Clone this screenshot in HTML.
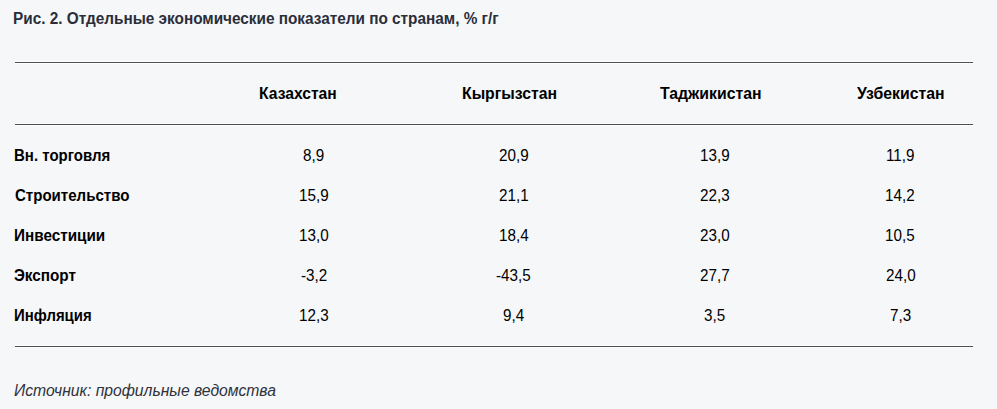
<!DOCTYPE html>
<html><head><meta charset="utf-8"><style>
html,body{margin:0;padding:0;}
body{width:997px;height:409px;background:#f6f7f9;position:relative;overflow:hidden;font-family:"Liberation Sans",sans-serif;font-size:16px;line-height:16px;white-space:nowrap;}
.ln{position:absolute;left:15px;width:958px;height:1px;background:#4d4d4d;box-shadow:0 -1px 0 #fff,0 1px 0 #fff;}
</style></head><body>
<div class="ln" style="top:62px"></div><div class="ln" style="top:124px"></div><div class="ln" style="top:346px"></div>
<div style="position:absolute;left:13.43px;top:11px;font-weight:700;font-style:normal;color:#2a2e39;transform:scaleX(0.9585);transform-origin:0 0;">Рис. 2. Отдельные экономические показатели по странам, % г/г</div>
<div style="position:absolute;left:259.02px;top:86px;font-weight:700;font-style:normal;color:#000000;transform:scaleX(0.9782);transform-origin:0 0;">Казахстан</div>
<div style="position:absolute;left:462.41px;top:86px;font-weight:700;font-style:normal;color:#000000;transform:scaleX(0.9863);transform-origin:0 0;">Кыргызстан</div>
<div style="position:absolute;left:659.80px;top:86px;font-weight:700;font-style:normal;color:#000000;transform:scaleX(0.9882);transform-origin:0 0;">Таджикистан</div>
<div style="position:absolute;left:857.00px;top:86px;font-weight:700;font-style:normal;color:#000000;transform:scaleX(0.9875);transform-origin:0 0;">Узбекистан</div>
<div style="position:absolute;left:14.45px;top:148px;font-weight:700;font-style:normal;color:#000000;transform:scaleX(0.9376);transform-origin:0 0;">Вн. торговля</div>
<div style="position:absolute;left:303.46px;top:148px;font-weight:400;font-style:normal;color:#000000;transform:scaleX(0.9500);transform-origin:0 0;letter-spacing:0.0px;">8,9</div>
<div style="position:absolute;left:498.80px;top:148px;font-weight:400;font-style:normal;color:#000000;transform:scaleX(0.9500);transform-origin:0 0;letter-spacing:0.0px;">20,9</div>
<div style="position:absolute;left:699.50px;top:148px;font-weight:400;font-style:normal;color:#000000;transform:scaleX(0.9500);transform-origin:0 0;letter-spacing:0.0px;">13,9</div>
<div style="position:absolute;left:885.78px;top:148px;font-weight:400;font-style:normal;color:#000000;transform:scaleX(0.9500);transform-origin:0 0;letter-spacing:0.0px;">11,9</div>
<div style="position:absolute;left:14.61px;top:188px;font-weight:700;font-style:normal;color:#000000;transform:scaleX(0.9405);transform-origin:0 0;">Строительство</div>
<div style="position:absolute;left:299.19px;top:188px;font-weight:400;font-style:normal;color:#000000;transform:scaleX(0.9500);transform-origin:0 0;letter-spacing:0.0px;">15,9</div>
<div style="position:absolute;left:498.80px;top:188px;font-weight:400;font-style:normal;color:#000000;transform:scaleX(0.9500);transform-origin:0 0;letter-spacing:0.0px;">21,1</div>
<div style="position:absolute;left:699.97px;top:188px;font-weight:400;font-style:normal;color:#000000;transform:scaleX(0.9500);transform-origin:0 0;letter-spacing:0.0px;">22,3</div>
<div style="position:absolute;left:885.30px;top:188px;font-weight:400;font-style:normal;color:#000000;transform:scaleX(0.9500);transform-origin:0 0;letter-spacing:0.0px;">14,2</div>
<div style="position:absolute;left:14.44px;top:228px;font-weight:700;font-style:normal;color:#000000;transform:scaleX(0.9543);transform-origin:0 0;">Инвестиции</div>
<div style="position:absolute;left:299.19px;top:228px;font-weight:400;font-style:normal;color:#000000;transform:scaleX(0.9500);transform-origin:0 0;letter-spacing:0.0px;">13,0</div>
<div style="position:absolute;left:498.80px;top:228px;font-weight:400;font-style:normal;color:#000000;transform:scaleX(0.9500);transform-origin:0 0;letter-spacing:0.0px;">18,4</div>
<div style="position:absolute;left:699.97px;top:228px;font-weight:400;font-style:normal;color:#000000;transform:scaleX(0.9500);transform-origin:0 0;letter-spacing:0.0px;">23,0</div>
<div style="position:absolute;left:885.30px;top:228px;font-weight:400;font-style:normal;color:#000000;transform:scaleX(0.9500);transform-origin:0 0;letter-spacing:0.0px;">10,5</div>
<div style="position:absolute;left:13.85px;top:268px;font-weight:700;font-style:normal;color:#000000;transform:scaleX(0.9547);transform-origin:0 0;">Экспорт</div>
<div style="position:absolute;left:301.09px;top:268px;font-weight:400;font-style:normal;color:#000000;transform:scaleX(0.9500);transform-origin:0 0;letter-spacing:0.0px;">-3,2</div>
<div style="position:absolute;left:496.43px;top:268px;font-weight:400;font-style:normal;color:#000000;transform:scaleX(0.9500);transform-origin:0 0;letter-spacing:0.0px;">-43,5</div>
<div style="position:absolute;left:699.97px;top:268px;font-weight:400;font-style:normal;color:#000000;transform:scaleX(0.9500);transform-origin:0 0;letter-spacing:0.0px;">27,7</div>
<div style="position:absolute;left:885.77px;top:268px;font-weight:400;font-style:normal;color:#000000;transform:scaleX(0.9500);transform-origin:0 0;letter-spacing:0.0px;">24,0</div>
<div style="position:absolute;left:14.07px;top:308px;font-weight:700;font-style:normal;color:#000000;transform:scaleX(0.9329);transform-origin:0 0;">Инфляция</div>
<div style="position:absolute;left:299.19px;top:308px;font-weight:400;font-style:normal;color:#000000;transform:scaleX(0.9500);transform-origin:0 0;letter-spacing:0.0px;">12,3</div>
<div style="position:absolute;left:503.07px;top:308px;font-weight:400;font-style:normal;color:#000000;transform:scaleX(0.9500);transform-origin:0 0;letter-spacing:0.0px;">9,4</div>
<div style="position:absolute;left:703.77px;top:308px;font-weight:400;font-style:normal;color:#000000;transform:scaleX(0.9500);transform-origin:0 0;letter-spacing:0.0px;">3,5</div>
<div style="position:absolute;left:890.05px;top:308px;font-weight:400;font-style:normal;color:#000000;transform:scaleX(0.9500);transform-origin:0 0;letter-spacing:0.0px;">7,3</div>
<div style="position:absolute;left:14.42px;top:383px;font-weight:400;font-style:italic;color:#2e323c;transform:scaleX(0.9812);transform-origin:0 0;">Источник: профильные ведомства</div>
</body></html>
